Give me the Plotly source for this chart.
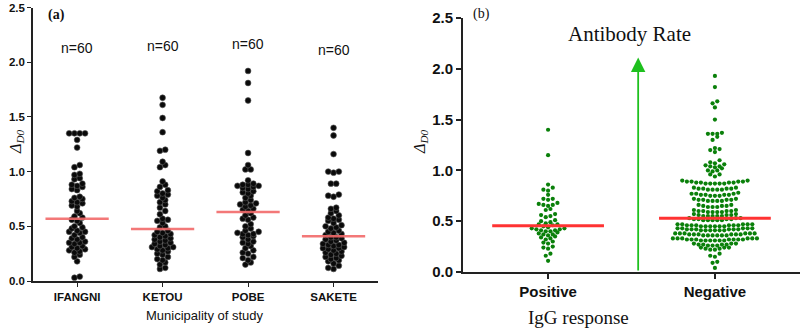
import numpy as np
import plotly.graph_objects as go

# ---------------- data ----------------
municipalities = ["IFANGNI", "KETOU", "POBE", "SAKETE"]

ifangni = [1.35, 1.35, 1.35, 1.35, 1.29, 1.22, 1.06, 1.04,
           0.98, 0.97, 0.94, 0.93, 0.89, 0.88, 0.87, 0.86, 0.84, 0.83, 0.77, 0.76, 0.75,
           0.73, 0.72, 0.71, 0.69, 0.68, 0.64, 0.62, 0.59, 0.58,
           0.56, 0.55, 0.53, 0.50, 0.49, 0.48, 0.46, 0.45, 0.45, 0.44, 0.42, 0.40, 0.39,
           0.38, 0.36, 0.35, 0.35, 0.34, 0.32, 0.31, 0.30, 0.29, 0.28, 0.27, 0.26, 0.24,
           0.22, 0.18, 0.04, 0.03]
ketou = [1.675, 1.61, 1.49, 1.36, 1.20, 1.19, 1.09, 1.06, 1.04,
         0.91, 0.88, 0.86, 0.83, 0.82, 0.80, 0.79, 0.78, 0.76, 0.74, 0.72, 0.70, 0.67,
         0.64, 0.61, 0.57, 0.56, 0.55, 0.53, 0.50, 0.49,
         0.46, 0.45, 0.44, 0.43, 0.42, 0.41, 0.40, 0.39, 0.38, 0.37, 0.36, 0.35, 0.34,
         0.33, 0.32, 0.31, 0.31, 0.30, 0.29, 0.28, 0.27, 0.25, 0.24, 0.22, 0.20, 0.19,
         0.17, 0.15, 0.12, 0.11]
pobe = [1.92, 1.81, 1.65, 1.17, 1.06, 1.02, 1.02, 0.92,
        0.89, 0.88, 0.88, 0.87, 0.87, 0.86, 0.85, 0.84, 0.82, 0.81, 0.80, 0.78, 0.76,
        0.74, 0.72, 0.71, 0.70, 0.69, 0.68, 0.66, 0.65, 0.64,
        0.62, 0.60, 0.58, 0.57, 0.56, 0.52, 0.50, 0.48, 0.46, 0.45, 0.44, 0.43, 0.43,
        0.42, 0.41, 0.40, 0.38, 0.36, 0.35, 0.34, 0.32, 0.30, 0.28, 0.26, 0.25, 0.22,
        0.21, 0.19, 0.17, 0.15]
sakete = [1.40, 1.33, 1.16, 1.00, 1.00, 0.99, 0.89, 0.89, 0.79, 0.78, 0.77,
          0.67, 0.66, 0.64, 0.62, 0.60, 0.58, 0.57, 0.56, 0.55, 0.53, 0.51, 0.50, 0.49,
          0.48, 0.46, 0.45, 0.44, 0.43, 0.42,
          0.40, 0.40, 0.39, 0.38, 0.37, 0.36, 0.35, 0.34, 0.33, 0.33, 0.32, 0.31, 0.30,
          0.30, 0.29, 0.28, 0.27, 0.26, 0.25, 0.24, 0.23, 0.22, 0.21, 0.20, 0.19, 0.18,
          0.16, 0.14, 0.12, 0.11]
municipality_values = [ifangni, ketou, pobe, sakete]

igg_groups = ["Positive", "Negative"]
positive = [1.40, 1.15, 0.86, 0.83, 0.81, 0.80, 0.76, 0.72, 0.72, 0.71, 0.68, 0.67,
            0.66, 0.66, 0.65, 0.62, 0.61, 0.57, 0.56, 0.55, 0.54, 0.51, 0.50, 0.49,
            0.48, 0.47, 0.47, 0.46,
            0.45, 0.44, 0.43, 0.43, 0.42, 0.42, 0.41, 0.41, 0.40, 0.40, 0.39, 0.38,
            0.37, 0.37, 0.36, 0.35, 0.34, 0.33, 0.32, 0.30, 0.29, 0.28, 0.25, 0.24,
            0.23, 0.18, 0.16, 0.11]
negative = [1.93, 1.82, 1.68, 1.66, 1.62, 1.50, 1.37, 1.36, 1.36, 1.36, 1.33, 1.30,
            1.22, 1.21, 1.20, 1.18, 1.10, 1.08, 1.07, 1.06, 1.05, 1.04, 1.04, 1.03,
            1.02, 1.00, 1.00, 0.99, 0.96, 0.96, 0.94,
            0.90, 0.90, 0.89, 0.89, 0.89, 0.89, 0.88, 0.88, 0.88, 0.88, 0.87, 0.87,
            0.87, 0.87, 0.87,
            0.83, 0.83, 0.82, 0.82, 0.82, 0.82, 0.81, 0.81, 0.81, 0.81,
            0.78, 0.77, 0.77, 0.77, 0.76, 0.76, 0.76, 0.76, 0.75, 0.75, 0.75,
            0.72, 0.72, 0.71, 0.71, 0.71, 0.71, 0.70, 0.70, 0.70, 0.70,
            0.66, 0.66, 0.65, 0.65, 0.65, 0.64, 0.64, 0.64,
            0.61, 0.61, 0.60, 0.60, 0.60, 0.60, 0.59, 0.59, 0.59, 0.59,
            0.57, 0.57, 0.56, 0.56, 0.56, 0.55, 0.55, 0.55, 0.55, 0.55,
            0.53, 0.53, 0.53, 0.52, 0.52, 0.52, 0.52, 0.51, 0.51, 0.51, 0.51, 0.51,
            0.47, 0.47, 0.47, 0.47, 0.47, 0.46, 0.46, 0.46, 0.46, 0.46, 0.46,
            0.45, 0.45, 0.45, 0.45, 0.45, 0.45,
            0.43, 0.43, 0.43, 0.43, 0.43, 0.42, 0.42, 0.42, 0.42, 0.42, 0.42,
            0.41, 0.41, 0.41, 0.41, 0.41, 0.41,
            0.38, 0.38, 0.38, 0.38, 0.38, 0.38, 0.37, 0.37, 0.37, 0.37, 0.37, 0.37,
            0.36, 0.36, 0.36, 0.36, 0.36, 0.36,
            0.33, 0.33, 0.33, 0.33, 0.33, 0.33, 0.32, 0.32, 0.32, 0.32, 0.32, 0.32,
            0.32, 0.31, 0.31, 0.31, 0.31, 0.31, 0.31,
            0.28, 0.28, 0.28, 0.27, 0.27, 0.27, 0.27, 0.26, 0.26, 0.26,
            0.24, 0.24, 0.24, 0.23, 0.23, 0.22, 0.22,
            0.18, 0.16, 0.15, 0.10, 0.09, 0.04]
igg_values = [positive, negative]

y_ticks = [0.0, 0.5, 1.0, 1.5, 2.0, 2.5]


# ---------------- beeswarm layout (row binning, like Prism) ----------------
def swarm(values, center, dx, binh):
    vals = sorted(values)
    rows, cur, start = [], [], None
    for v in vals:
        if start is None or v - start >= binh - 1e-9:
            if cur:
                rows.append(cur)
            cur, start = [v], v
        else:
            cur.append(v)
    if cur:
        rows.append(cur)
    xs, ys = [], []
    for row in rows:
        n = len(row)
        if n % 2 == 1:
            offs = [0.0]
            k = 1
            while len(offs) < n:
                offs += [-k, k]
                k += 1
        else:
            offs = []
            k = 0.5
            while len(offs) < n:
                offs += [-k, k]
                k += 1
        offs = offs[:n]
        for v, o in zip(row, offs):
            xs.append(center + o * dx)
            ys.append(v)
    return xs, ys


fig = go.Figure()

# ---- panel (a) ----
for i, vals in enumerate(municipality_values):
    xs, ys = swarm(vals, i, 0.062, 0.04)
    fig.add_trace(go.Scatter(
        x=xs, y=ys, mode="markers", xaxis="x", yaxis="y", cliponaxis=False,
        marker=dict(size=5.8, color="#0a0a0a", line=dict(width=0.6, color="#555555")),
        hoverinfo="y"))
    med = float(np.median(vals))
    fig.add_trace(go.Scatter(
        x=[i - 0.37, i + 0.37], y=[med, med], mode="lines", xaxis="x", yaxis="y",
        line=dict(color="rgba(242,105,105,0.9)", width=2.5), hoverinfo="skip"))

# ---- panel (b) ----
for i, vals in enumerate(igg_values):
    xs, ys = swarm(vals, i, 0.028, 0.035)
    fig.add_trace(go.Scatter(
        x=xs, y=ys, mode="markers", xaxis="x2", yaxis="y2", cliponaxis=False,
        marker=dict(size=4.2, color="#0a800a"), hoverinfo="y"))
    med = float(np.median(vals))
    fig.add_trace(go.Scatter(
        x=[i - 0.335, i + 0.335], y=[med, med], mode="lines", xaxis="x2", yaxis="y2",
        line=dict(color="#ff3333", width=3), hoverinfo="skip"))

W, H = 801, 330


def px(x):
    return x / W


def py(y):
    return 1 - y / H


axis_common = dict(showgrid=False, zeroline=False, showline=True, linecolor="#222222",
                   ticks="outside", tickcolor="#222222", fixedrange=True, automargin=False)

annotations = []
# n labels
n_label_y = [2.13, 2.15, 2.17, 2.11]
for i, vals in enumerate(municipality_values):
    annotations.append(dict(x=i, y=n_label_y[i], xref="x", yref="y", text=f"n={len(vals)}",
                            showarrow=False, xanchor="center", yanchor="middle",
                            font=dict(family="Arial", size=14, color="#111")))


def paper_text(x, y, text, family, size, angle=0):
    return dict(x=px(x), y=py(y), xref="paper", yref="paper", text=text, showarrow=False,
                xanchor="center", yanchor="middle", textangle=angle,
                font=dict(family=family, size=size, color="#111"))


annotations += [
    paper_text(56, 15, "<b>(a)</b>", "Liberation Serif", 14),
    paper_text(481, 14, "(b)", "Liberation Serif", 14),
    paper_text(16, 142, "<i>Δ<sub>D0</sub></i>", "Liberation Serif", 16, -90),
    paper_text(420, 142, "<i>Δ<sub>D0</sub></i>", "Liberation Serif", 16, -90),
    paper_text(205, 315, "Municipality of study", "Arial", 13),
    paper_text(578, 317, "IgG response", "Liberation Serif", 19),
    paper_text(629, 34, "Antibody Rate", "Liberation Serif", 21),
    dict(x=0.54, y=2.11, xref="x2", yref="y2", ax=0.54, ay=0.0, axref="x2", ayref="y2",
         text="", showarrow=True, arrowhead=2, arrowsize=1.6, arrowwidth=1.8,
         arrowcolor="#1ec01e", standoff=0, startstandoff=0),
]

fig.update_layout(
    width=W, height=H, margin=dict(l=0, r=0, t=0, b=0, autoexpand=False),
    paper_bgcolor="white", plot_bgcolor="white", showlegend=False,
    xaxis=dict(domain=[px(33), px(378)], range=[-0.516, 3.52],
               tickvals=list(range(len(municipalities))), ticktext=municipalities,
               tickfont=dict(family="Arial", size=11.5, color="#111", weight="bold"),
               linewidth=1.6, ticklen=4, tickwidth=1.4, anchor="y", **axis_common),
    yaxis=dict(domain=[py(281), py(7.5)], range=[0, 2.5], tickvals=y_ticks, tickformat=".1f",
               tickfont=dict(family="Arial", size=11.5, color="#111", weight="bold"),
               linewidth=1.6, ticklen=4, tickwidth=1.4, anchor="x", **axis_common),
    xaxis2=dict(domain=[px(463), px(800)], range=[-0.51, 1.51],
                tickvals=list(range(len(igg_groups))), ticktext=igg_groups,
                tickfont=dict(family="Arial", size=15, color="#111", weight="bold"),
                linewidth=2, ticklen=5, tickwidth=1.6, anchor="y2", **axis_common),
    yaxis2=dict(domain=[py(272), py(18)], range=[0, 2.5], tickvals=y_ticks, tickformat=".1f",
                tickfont=dict(family="Arial", size=15, color="#111", weight="bold"),
                linewidth=2, ticklen=5, tickwidth=1.6, anchor="x2", **axis_common),
    annotations=annotations,
)

fig.write_html("out.html", config={"displayModeBar": False},
               post_script="document.body.style.margin='0';")
